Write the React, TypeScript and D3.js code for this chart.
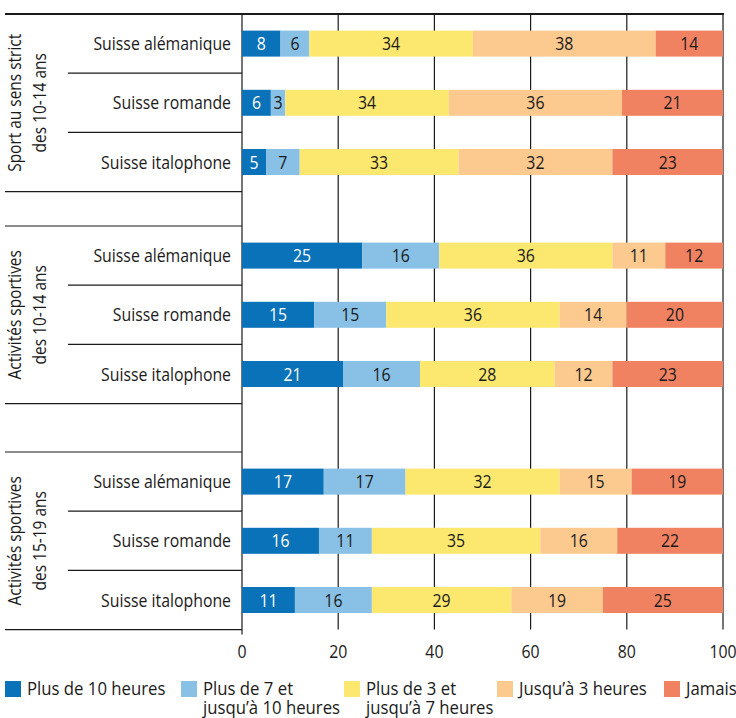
import React from "react";
import * as d3 from "d3";

const groups = [
  ["Sport au sens strict", "des 10-14 ans"],
  ["Activités sportives", "des 10-14 ans"],
  ["Activités sportives", "des 15-19 ans"],
];
const regions = ["Suisse alémanique", "Suisse romande", "Suisse italophone"];
const seriesNames = [
  "Plus de 10 heures",
  "Plus de 7 et\njusqu’à 10 heures",
  "Plus de 3 et\njusqu’à 7 heures",
  "Jusqu’à 3 heures",
  "Jamais",
];
const colors = ["#0a72b9", "#88c1e5", "#fde86f", "#fcca8f", "#f08262"];
// values[group][region]
const plus10 = [[8, 6, 5], [25, 15, 21], [17, 16, 11]];
const plus7 = [[6, 3, 7], [16, 15, 16], [17, 11, 16]];
const plus3 = [[34, 34, 33], [36, 36, 28], [32, 35, 29]];
const jusqu3 = [[38, 36, 32], [11, 14, 12], [15, 16, 19]];
const jamais = [[14, 21, 23], [12, 20, 23], [19, 22, 25]];
const tickValues = [0, 20, 40, 60, 80, 100];

const FONT = "'Open Sans', sans-serif";

function T({ x, y, sx = 0.88, rot = 0, anchor = "start", fill = "#1a1a1a", size = 18, children }: any) {
  return (
    <text
      transform={`translate(${x},${y}) rotate(${rot}) scale(${sx},1)`}
      textAnchor={anchor}
      fontSize={size}
      fill={fill}
    >
      {children}
    </text>
  );
}

export default function App() {
  const W = 736, H = 718;
  const x = d3.scaleLinear().domain([0, 100]).range([242, 723]);
  const rowH = 59.2;
  const groupTops = [14, 226, 452];
  const yBand = d3.scaleBand<number>().domain([0, 1, 2]).range([0, rowH * 3]);
  const barH = 26;
  const allSeries = [plus10, plus7, plus3, jusqu3, jamais];
  const stack = d3.stack<number[]>().keys(["0", "1", "2", "3", "4"]).value((d, k) => d[+k]);

  const bars: React.ReactNode[] = [];
  groups.forEach((g, gi) => {
    const rows = regions.map((_, ri) => allSeries.map((s) => s[gi][ri]));
    const st = stack(rows);
    st.forEach((layer, si) => {
      layer.forEach((seg, ri) => {
        const cy = groupTops[gi] + yBand(ri)! + yBand.bandwidth() / 2;
        const x0 = x(seg[0]), x1 = x(seg[1]);
        const v = rows[ri][si];
        bars.push(
          <g key={`b${gi}-${si}-${ri}`}>
            <rect x={x0} y={cy - barH / 2} width={x1 - x0} height={barH} fill={colors[si]} />
            <T x={(x0 + x1) / 2} y={cy + 6.5} anchor="middle" fill={si === 0 ? "#fff" : "#1a1a1a"}>{v}</T>
          </g>
        );
      });
    });
  });

  const lastBottom = groupTops[2] + rowH * 3;

  return (
    <svg width={W} height={H} style={{ position: "absolute", left: 0, top: 0, fontFamily: FONT }}>
      <rect width={W} height={H} fill="#fff" />
      {tickValues.map((t) => (
        <line key={`g${t}`} x1={x(t)} x2={x(t)} y1={14} y2={t === 0 ? lastBottom + 5 : lastBottom} stroke="#1a1a1a" strokeWidth={1.2} />
      ))}
      {bars}
      <line x1={5} x2={724} y1={14} y2={14} stroke="#1a1a1a" strokeWidth={2} />
      {groups.map((g, gi) => {
        const top = groupTops[gi];
        const bottom = top + rowH * 3;
        const cy = (top + bottom) / 2;
        return (
          <g key={`grp${gi}`}>
            {gi > 0 && <line x1={5} x2={242} y1={top} y2={top} stroke="#1a1a1a" strokeWidth={1.2} />}
            <line x1={5} x2={242} y1={bottom} y2={bottom} stroke="#1a1a1a" strokeWidth={1.2} />
            {[1, 2].map((k) => (
              <line key={k} x1={68} x2={242} y1={top + yBand(k)!} y2={top + yBand(k)!} stroke="#1a1a1a" strokeWidth={1.2} />
            ))}
            {regions.map((r, ri) => (
              <T key={r} x={231} y={top + yBand(ri)! + yBand.bandwidth() / 2 + 6.5} anchor="end">{r}</T>
            ))}
            <T x={21} y={cy} rot={-90} anchor="middle" sx={0.86}>{g[0]}</T>
            <T x={46} y={cy} rot={-90} anchor="middle" sx={0.86}>{g[1]}</T>
          </g>
        );
      })}
      {tickValues.map((t) => (
        <T key={`t${t}`} x={x(t)} y={658} anchor="middle">{t}</T>
      ))}
      {seriesNames.map((name, i) => {
        const lx = [5, 181, 344, 497, 664][i];
        const lines = name.split("\n");
        return (
          <g key={`l${i}`}>
            <rect x={lx} y={681} width={16} height={16} fill={colors[i]} />
            {lines.map((ln, li) => (
              <T key={li} x={lx + 22} y={695 + li * 19} sx={0.93}>{ln}</T>
            ))}
          </g>
        );
      })}
    </svg>
  );
}
